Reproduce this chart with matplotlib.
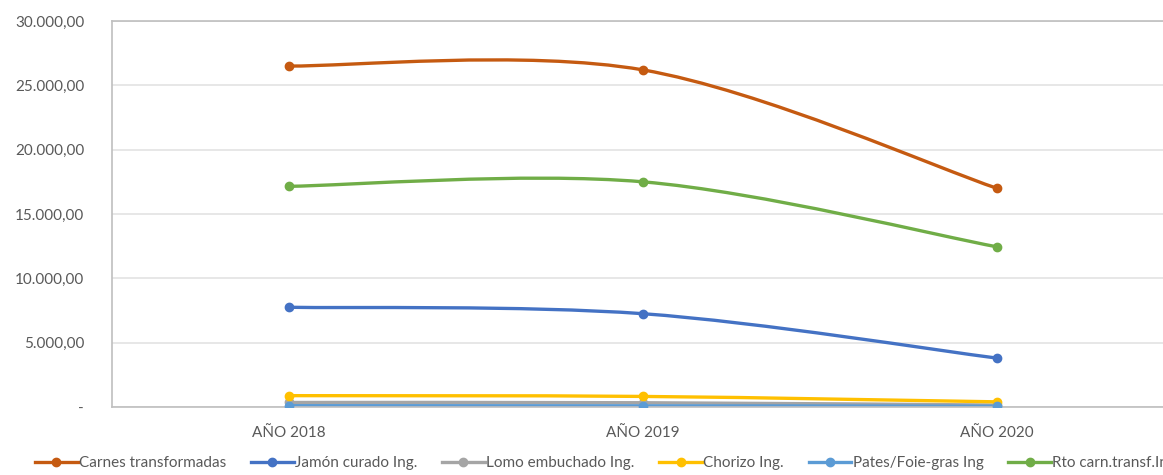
import matplotlib
matplotlib.use("Agg")
import matplotlib.pyplot as plt
from matplotlib.path import Path
from matplotlib.patches import PathPatch
from matplotlib.lines import Line2D
from matplotlib.ticker import FuncFormatter

categorias = ["AÑO 2018", "AÑO 2019", "AÑO 2020"]

carnes = [26500, 26200, 17000]
jamon = [7750, 7250, 3800]
lomo = [350, 330, 150]
chorizo = [880, 820, 400]
pates = [100, 90, 60]
rto = [17150, 17500, 12450]

series = [
    ("Carnes transformadas", carnes, "#C55A11"),
    ("Jamón curado Ing.", jamon, "#4472C4"),
    ("Lomo embuchado Ing.", lomo, "#A5A5A5"),
    ("Chorizo Ing.", chorizo, "#FFC000"),
    ("Pates/Foie-gras Ing", pates, "#5B9BD5"),
    ("Rto carn.transf.Ing", rto, "#70AD47"),
]

plt.rcParams['font.family'] = ['Lato', 'DejaVu Sans']


def curva_suave(xs, ys):
    # bezier tipo Excel (catmull-rom) entre puntos consecutivos
    n = len(xs)
    verts = [(xs[0], ys[0])]
    codes = [Path.MOVETO]
    for i in range(n - 1):
        x0, y0 = (xs[i - 1], ys[i - 1]) if i > 0 else (xs[i], ys[i])
        x1, y1 = xs[i], ys[i]
        x2, y2 = xs[i + 1], ys[i + 1]
        x3, y3 = (xs[i + 2], ys[i + 2]) if i + 2 < n else (x2, y2)
        c1 = (x1 + (x2 - x0) / 6, y1 + (y2 - y0) / 6)
        c2 = (x2 - (x3 - x1) / 6, y2 - (y3 - y1) / 6)
        verts += [c1, c2, (x2, y2)]
        codes += [Path.CURVE4] * 3
    return Path(verts, codes)


fig = plt.figure(figsize=(11.63, 4.75), dpi=100)
ax = fig.add_axes([0.0963, 0.1432, 0.913, 0.8126])

x = list(range(len(categorias)))
handles = []
for nombre, valores, color in series:
    ax.add_patch(PathPatch(curva_suave(x, valores), facecolor="none",
                           edgecolor=color, lw=2.4, capstyle="round"))
    ax.plot(x, valores, "o", color=color, ms=6, zorder=3)
    handles.append(Line2D([0], [0], color=color, lw=2.4, marker="o", ms=6))

ax.set_xlim(-0.5, 2.5)
ax.set_ylim(0, 30000)
ax.set_yticks(range(0, 30001, 5000))
ax.set_xticks(x)
ax.set_xticklabels(categorias)


def formato(v, pos):
    if v == 0:
        return "-"
    return f"{v:,.2f}".replace(",", "X").replace(".", ",").replace("X", ".")


ax.yaxis.set_major_formatter(FuncFormatter(formato))
ax.tick_params(axis="both", length=0, labelsize=11, colors="#595959")
ax.tick_params(axis="y", pad=20)
ax.tick_params(axis="x", pad=14)

ax.grid(axis="y", color="#E3E3E3", lw=1.2)
ax.set_axisbelow(True)
for lado in ["left", "top", "bottom"]:
    ax.spines[lado].set_color("#BFBFBF")
    ax.spines[lado].set_linewidth(1.2)
ax.spines["right"].set_visible(False)

fig.legend(handles, [s[0] for s in series], loc="center left",
           bbox_to_anchor=(0.03, 0.025), ncol=6, frameon=False,
           fontsize=11, labelcolor="#595959", handlelength=2.8,
           handletextpad=0.1, columnspacing=1.6, borderaxespad=0,
           borderpad=0)

fig.savefig("out.png", dpi=100)
